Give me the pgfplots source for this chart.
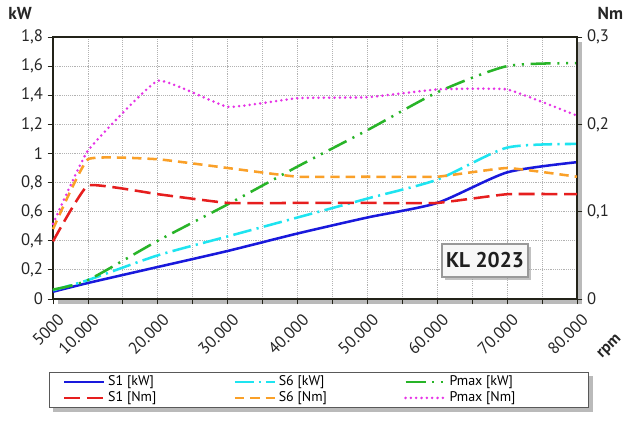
\documentclass[border=0pt]{standalone}
\usepackage{fontspec}
\setmainfont{PT Sans}
\usepackage{pgfplots}
\pgfplotsset{compat=1.18}
\usetikzlibrary{shadows,backgrounds}

\definecolor{cSonekW}{RGB}{25,25,220}
\definecolor{cSsixkW}{RGB}{30,228,240}
\definecolor{cPmaxkW}{RGB}{40,180,40}
\definecolor{cSoneNm}{RGB}{230,30,30}
\definecolor{cSsixNm}{RGB}{250,160,40}
\definecolor{cPmaxNm}{RGB}{230,50,230}
\definecolor{frame}{RGB}{35,35,25}

\pgfplotsset{
  base/.style={
    scale only axis, width=393pt, height=196.5pt,
    xmin=5000, xmax=80000,
    tick align=outside,
    major tick length=4pt,
    minor tick length=4pt,
    every tick/.style={frame, line width=0.6pt},
    ticklabel style={font=\fontsize{12.5}{14}\selectfont, text=black!85},
    clip=false,
  },
  sS1kW/.style={cSonekW, line width=1.9pt},
  sS6kW/.style={cSsixkW, line width=1.9pt, dash pattern=on 14pt off 4pt on 1.6pt off 4pt},
  sPmkW/.style={cPmaxkW, line width=1.9pt, dash pattern=on 15pt off 5pt on 1.6pt off 5pt on 1.6pt off 5pt},
  sS1Nm/.style={cSoneNm, line width=1.9pt, dash pattern=on 12pt off 5pt},
  sS6Nm/.style={cSsixNm, line width=1.9pt, dash pattern=on 7pt off 4.5pt},
  sPmNm/.style={cPmaxNm, line width=2.1pt, line cap=round, dash pattern=on 0pt off 4pt},
}

\newcommand{\lt}[1]{\makebox[92pt][l]{#1}}

\begin{document}
\begin{tikzpicture}
\begin{axis}[base,
  ymin=0, ymax=1.8,
  xtick={5000,10000,20000,30000,40000,50000,60000,70000,80000},
  xticklabels={5000,10.000,20.000,30.000,40.000,50.000,60.000,70.000,80.000},
  minor xtick={15000,25000,35000,45000,55000,65000,75000},
  ytick={0,0.2,0.4,0.6,0.8,1,1.2,1.4,1.6,1.8},
  yticklabels={0,{0,2},{0,4},{0,6},{0,8},1,{1,2},{1,4},{1,6},{1,8}},
  xtick pos=bottom, ytick pos=left,
  xticklabel style={rotate=45, anchor=north east, yshift=-3pt, xshift=1pt},
  xmajorgrids, xminorgrids, ymajorgrids,
  grid style={black!30, densely dotted, line width=0.6pt},
  minor grid style={black!30, densely dotted, line width=0.6pt},
  axis line style={frame, line width=1.9pt},
  axis background/.style={fill=white, drop shadow={shadow xshift=4pt, shadow yshift=-4pt, fill=black!45, opacity=0.6}},
]
\addplot[sS1kW, smooth, tension=0.4] coordinates {
  (5000,0.05) (10000,0.11) (20000,0.22) (30000,0.33) (40000,0.45)
  (50000,0.56) (60000,0.66) (70000,0.87) (80000,0.94)};
\addplot[sS6kW, smooth, tension=0.4] coordinates {
  (5000,0.06) (10000,0.13) (20000,0.30) (30000,0.43) (40000,0.56)
  (50000,0.69) (60000,0.82) (70000,1.04) (80000,1.065)};
\addplot[sPmkW, smooth, tension=0.4] coordinates {
  (5000,0.065) (10000,0.13) (20000,0.40) (30000,0.65) (40000,0.91)
  (50000,1.16) (60000,1.42) (70000,1.60) (80000,1.62)};
\coordinate (sw) at (rel axis cs:0,0);
\coordinate (ne) at (rel axis cs:1,1);
\node[font=\bfseries\fontsize{13}{15}\selectfont, text=black!85] at (rel axis cs:-0.063,1.0916) {kW};
\node[font=\bfseries\fontsize{13}{15}\selectfont, text=black!85, anchor=west] at (rel axis cs:1.0305,1.0916) {Nm};
\node[font=\bfseries\fontsize{12}{14}\selectfont, text=black!85, rotate=45] at (rel axis cs:1.063,-0.183) {rpm};
\node[font=\bfseries\fontsize{16}{18}\selectfont, text=black!88, fill=black!3, draw=black!40, line width=0.9pt,
  minimum width=64.5pt, minimum height=24.75pt, inner sep=2pt,
  drop shadow={shadow xshift=2pt, shadow yshift=-2pt, fill=black!40, opacity=0.6}]
  at (rel axis cs:0.8244,0.147) {KL 2023};
\end{axis}
\begin{axis}[base,
  ymin=0, ymax=0.3,
  axis x line=none,
  axis y line*=right,
  ytick={0,0.1,0.2,0.3},
  yticklabels={0,{0,1},{0,2},{0,3}},
  axis line style={frame, line width=1.9pt},
  legend columns=3,
  legend image code/.code={\draw[#1] (0pt,0pt) -- (30pt,0pt);},
  legend style={name=leg, at={(0.5076,-0.347)}, anchor=center, draw=black!65, line width=0.6pt, fill=white,
    font=\fontsize{10.5}{12}\selectfont, inner xsep=10pt, inner ysep=1pt, row sep=-1pt},
]
\addlegendimage{sS1kW}\addlegendentry{\lt{S1 [kW]}}
\addlegendimage{sS6kW}\addlegendentry{\lt{S6 [kW]}}
\addlegendimage{sPmkW}\addlegendentry{\lt{Pmax [kW]}}
\addplot[sS1Nm, smooth, tension=0.2] coordinates {
  (5000,0.066) (10000,0.13) (20000,0.12) (30000,0.11) (40000,0.11)
  (50000,0.11) (60000,0.11) (70000,0.12) (80000,0.12)};
\addlegendentry{\lt{S1 [Nm]}}
\addplot[sS6Nm, smooth, tension=0.2] coordinates {
  (5000,0.08) (10000,0.16) (20000,0.16) (30000,0.15) (40000,0.14)
  (50000,0.14) (60000,0.14) (70000,0.15) (80000,0.14)};
\addlegendentry{\lt{S6 [Nm]}}
\addplot[sPmNm, smooth, tension=0.2] coordinates {
  (5000,0.086) (10000,0.17) (20000,0.25) (30000,0.22) (40000,0.23)
  (50000,0.231) (60000,0.24) (70000,0.24) (80000,0.21)};
\addlegendentry{\lt{Pmax [Nm]}}
\end{axis}
\begin{scope}[on background layer]
\fill[black!45, opacity=0.6] ([shift={(3pt,-3pt)}]leg.south west) rectangle ([shift={(3pt,-3pt)}]leg.north east);
\end{scope}
\pgfresetboundingbox
\useasboundingbox ([shift={(-39.75pt,-90.75pt)}]sw) rectangle ([shift={(36pt,27.75pt)}]ne);
\end{tikzpicture}
\end{document}
